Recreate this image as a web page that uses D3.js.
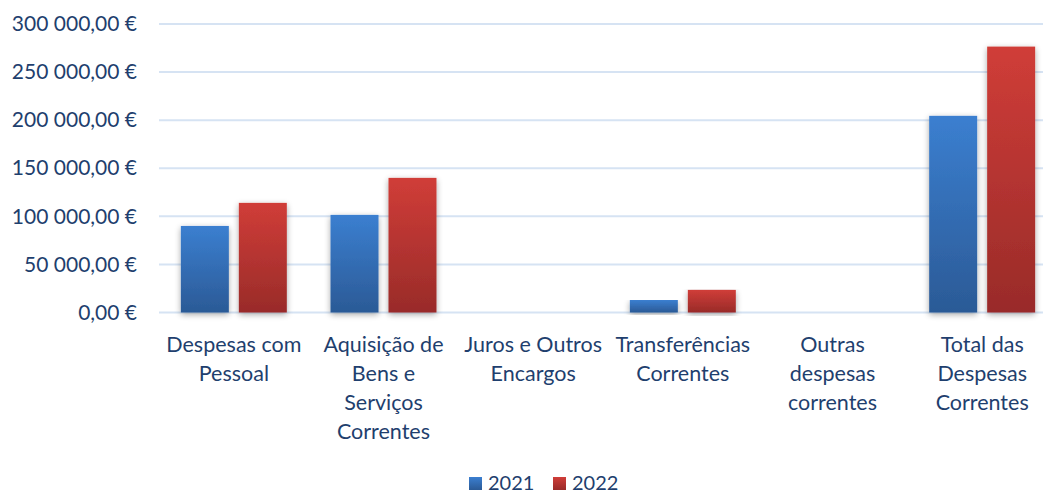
<!DOCTYPE html>
<html>
<head>
<meta charset="utf-8">
<script src="https://cdn.jsdelivr.net/npm/d3@7"></script>
<style>
  body { margin: 0; background: #fff; }
  text { font-family: Lato, "Open Sans", sans-serif; fill: #1f3f6e; }
</style>
</head>
<body>
<svg id="chart" width="1043" height="493"></svg>
<script>
// data
var categories = [
  "Despesas com\nPessoal",
  "Aquisição de\nBens e\nServiços\nCorrentes",
  "Juros e Outros\nEncargos",
  "Transferências\nCorrentes",
  "Outras\ndespesas\ncorrentes",
  "Total das\nDespesas\nCorrentes"
]
var series = ["2021", "2022"]
var values2021 = [90000, 101500, 0, 13000, 0, 204500]
var values2022 = [114000, 140000, 0, 23500, 0, 276500]
var yTicks = [0, 50000, 100000, 150000, 200000, 250000, 300000]

var svg = d3.select("#chart")
var plotTop = 24, plotBottom = 312.5, plotLeft = 159, plotRight = 1057

var defs = svg.append("defs")
function grad(id, c1, c2) {
  var g = defs.append("linearGradient").attr("id", id)
    .attr("x1", 0).attr("y1", 0).attr("x2", 0).attr("y2", 1)
  g.append("stop").attr("offset", "0%").attr("stop-color", c1)
  g.append("stop").attr("offset", "100%").attr("stop-color", c2)
}
grad("g2021", "#3b7fd0", "#2b5a96")
grad("g2022", "#d03d38", "#992b29")

var shadow = defs.append("filter").attr("id", "shadow")
  .attr("x", "-30%").attr("y", "-10%").attr("width", "160%").attr("height", "125%")
shadow.append("feGaussianBlur").attr("in", "SourceAlpha").attr("stdDeviation", 3)
shadow.append("feOffset").attr("dx", 0).attr("dy", 2).attr("result", "b")
shadow.append("feComponentTransfer").append("feFuncA").attr("type", "linear").attr("slope", 0.35)
var merge = shadow.append("feMerge")
merge.append("feMergeNode")
merge.append("feMergeNode").attr("in", "SourceGraphic")

var y = d3.scaleLinear().domain([0, 300000]).range([plotBottom, plotTop])
var x0 = d3.scaleBand().domain(categories).range([plotLeft, plotRight])
  .paddingInner(0.292).paddingOuter(0.146)
var x1 = d3.scaleBand().domain(series).range([0, x0.bandwidth()]).paddingInner(0.1724)

var fmt = function(v) {
  return d3.format(",.2f")(v).replace(/,/g, " ").replace(".", ",") + " €"
}

// grid
svg.append("g").selectAll("line").data(yTicks).enter().append("line")
  .attr("x1", plotLeft).attr("x2", plotRight)
  .attr("y1", function(d) { return y(d) }).attr("y2", function(d) { return y(d) })
  .attr("stroke", "#d6e3f3").attr("stroke-width", 2)

// y axis labels
var yAxis = d3.axisLeft(y).tickValues(yTicks).tickFormat(fmt).tickSize(0).tickPadding(0)
var ya = svg.append("g").attr("transform", "translate(137,0)").call(yAxis)
ya.select(".domain").remove()
ya.selectAll("text").attr("font-size", 21).style("fill", "#1f3f6e")
  .style("font-family", "Lato, sans-serif")

// bars
var rows = categories.map(function(c, i) {
  return [{ s: "2021", v: values2021[i] }, { s: "2022", v: values2022[i] }]
})
var groups = svg.append("g").selectAll("g").data(rows).enter().append("g")
  .attr("transform", function(d, i) { return "translate(" + x0(categories[i]) + ",0)" })
groups.selectAll("rect").data(function(d) { return d.filter(function(e) { return e.v > 0 }) })
  .enter().append("rect")
  .attr("x", function(d) { return x1(d.s) })
  .attr("width", x1.bandwidth())
  .attr("y", function(d) { return y(d.v) })
  .attr("height", function(d) { return y(0) - y(d.v) })
  .attr("fill", function(d) { return "url(#g" + d.s + ")" })
  .attr("filter", "url(#shadow)")

// category labels
var cl = svg.append("g").selectAll("text").data(categories).enter().append("text")
  .attr("x", function(d) { return x0(d) + x0.bandwidth() / 2 })
  .attr("y", 352)
  .attr("text-anchor", "middle")
  .attr("font-size", 21.5)
cl.selectAll("tspan").data(function(d) { return d.split("\n") }).enter().append("tspan")
  .attr("x", function() { return d3.select(this.parentNode).attr("x") })
  .attr("dy", function(d, i) { return i == 0 ? 0 : 29 })
  .text(function(d) { return d })

// legend
var legX = [469, 553]
var leg = svg.append("g").selectAll("g").data(series).enter().append("g")
  .attr("transform", function(d, i) { return "translate(" + legX[i] + ",477)" })
leg.append("rect").attr("width", 13).attr("height", 13)
  .attr("fill", function(d) { return "url(#g" + d + ")" })
leg.append("text").attr("x", 19).attr("y", 13).attr("font-size", 20)
  .text(function(d) { return d })
</script>
</body>
</html>
